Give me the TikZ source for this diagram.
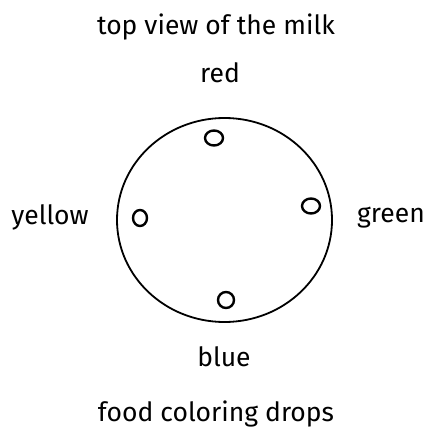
\documentclass[tikz,border=0pt]{standalone}
\usepackage{fontspec}
\setmainfont{Fira Sans}
\begin{document}
\begin{tikzpicture}[x=1pt,y=-1pt,
  lbl/.style={font=\fontsize{26.5}{28}\selectfont, inner sep=0pt, anchor=base},
  drop/.style={draw, line width=2.4pt},
  rim/.style={draw, line width=1.8pt}]
\useasboundingbox (0,0) rectangle (428,438);
\node[lbl] (title) at (216,35) {top view of the milk};
\node[lbl] (red) at (220,83) {red};
\node[lbl] (yellow) at (50,224) {yellow};
\node[lbl] (green) at (391,222) {green};
\node[lbl] (blue) at (224,366) {blue};
\node[lbl] (foot) at (216,421) {food coloring drops};
\draw[rim] (224.5,220) ellipse (107.5 and 102);
\draw[drop] (214,138) ellipse (9 and 7.5);
\draw[drop] (311,206) ellipse (9 and 7.5);
\draw[drop] (140,218) ellipse (7 and 8);
\draw[drop] (226,300) ellipse (8 and 8);
\end{tikzpicture}
\end{document}
